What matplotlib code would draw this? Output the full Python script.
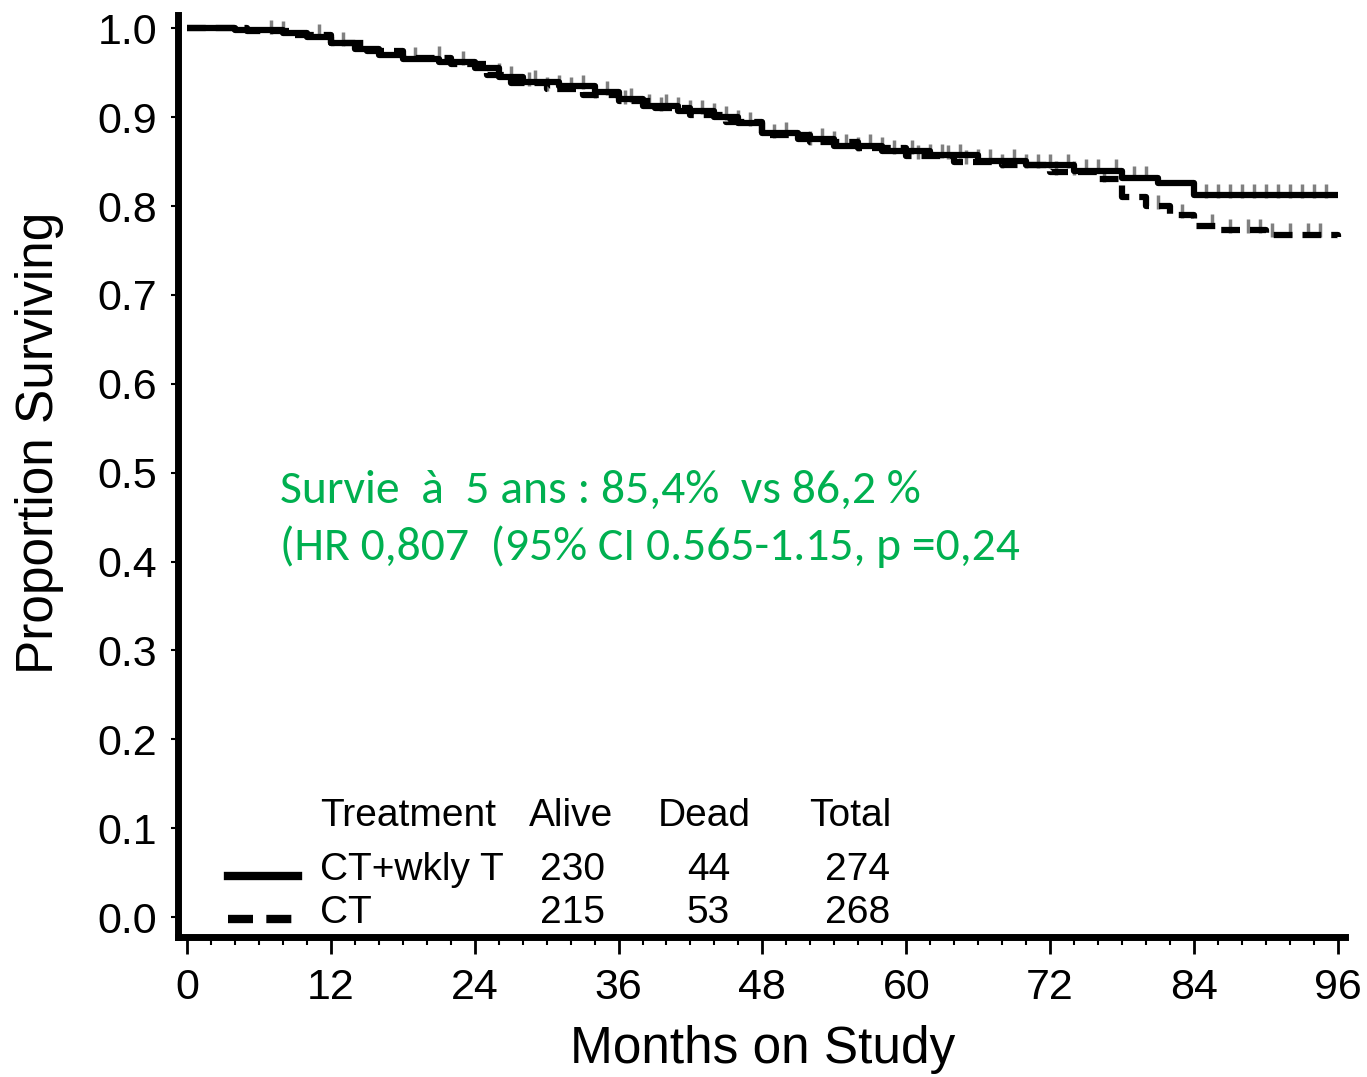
import numpy as np
import matplotlib
matplotlib.use("Agg")
import matplotlib.pyplot as plt
from matplotlib import font_manager

# ---- Kaplan-Meier step data (months, proportion surviving) ----
months_wklyT = [0, 4, 8, 10, 12, 14, 16, 18, 21, 24, 26, 28, 31, 34, 36, 38, 41,
                44, 46, 48, 51, 54, 58, 62, 66, 70, 74, 78, 81, 84, 96]
surv_wklyT = [1.000, 0.998, 0.995, 0.990, 0.983, 0.977, 0.970, 0.966, 0.962, 0.955,
              0.945, 0.940, 0.935, 0.928, 0.920, 0.913, 0.907, 0.900, 0.893, 0.882,
              0.875, 0.868, 0.862, 0.857, 0.851, 0.846, 0.840, 0.832, 0.826, 0.812, 0.812]

months_ct = [0, 5, 9, 12, 15, 18, 22, 25, 27, 30, 33, 36, 39, 42, 45, 48, 52, 56,
             60, 64, 68, 72, 76, 78, 80, 82, 84, 86, 90, 96]
surv_ct = [1.000, 0.997, 0.992, 0.984, 0.975, 0.967, 0.960, 0.948, 0.938, 0.932,
           0.925, 0.918, 0.910, 0.903, 0.895, 0.880, 0.872, 0.865, 0.856, 0.850,
           0.846, 0.838, 0.830, 0.810, 0.800, 0.790, 0.778, 0.773, 0.768, 0.765]

# censored observation times (months)
censor_wklyT = [8, 13, 19, 23, 27, 29, 31, 33, 35, 37, 38.5, 40, 42, 43, 45, 47, 50,
                53, 55, 57, 59, 60.5, 62, 63, 64.5, 66, 67, 69, 71, 72, 73.5, 75, 76,
                77.5, 79, 80, 85, 86, 87, 88, 89, 90, 91, 92, 93, 94, 95]
censor_ct = [7, 11, 21, 26, 28.5, 30, 32, 34, 36.5, 39.5, 41, 44, 46, 49, 52, 54,
             56, 58, 61, 63.5, 65, 68, 70, 72.5, 74, 76.5, 81, 83, 85.5, 87, 88.5,
             89.5, 90.5, 92, 93.5, 94.5]

# summary table
treatments = ["CT+wkly T", "CT"]
alive = [230, 215]
dead = [44, 53]
total = [274, 268]

x_ticks = [0, 12, 24, 36, 48, 60, 72, 84, 96]
y_ticks = [0.0, 0.1, 0.2, 0.3, 0.4, 0.5, 0.6, 0.7, 0.8, 0.9, 1.0]

# ---- fonts ----
available = {f.name for f in font_manager.fontManager.ttflist}
narrow = [f for f in ["Liberation Sans Narrow", "Liberation Sans"]
          if f in available] or ["DejaVu Sans"]
plt.rcParams["font.family"] = narrow + ["DejaVu Sans"]
green_font = [f for f in ["Carlito", "Lato", "Open Sans"] if f in available] or ["DejaVu Sans"]

fig = plt.figure(figsize=(13.67, 10.77), dpi=100)
ax = fig.add_axes([178 / 1367, 1 - 937 / 1077, (1345 - 178) / 1367, (937 - 15) / 1077])
ax.set_xlim(-0.75, 96.6)
ax.set_ylim(-0.0225, 1.015)


def step_value(t, times, surv):
    idx = np.searchsorted(times, t, side="right") - 1
    return np.asarray(surv)[idx]


ax.step(months_wklyT, surv_wklyT, where="post", color="black", lw=4.5,
        solid_capstyle="butt", zorder=3)
ax.step(months_ct, surv_ct, where="post", color="black", lw=4.5,
        linestyle=(0, (3, 1.6)), zorder=3)

ax.plot(censor_wklyT, step_value(censor_wklyT, months_wklyT, surv_wklyT) + 0.005,
        linestyle="none", marker="|", markersize=10, mew=2.5, color="#808080", zorder=2)
ax.plot(censor_ct, step_value(censor_ct, months_ct, surv_ct) + 0.005,
        linestyle="none", marker="|", markersize=10, mew=2.5, color="#808080", zorder=2)

# axes styling
for side in ["top", "right"]:
    ax.spines[side].set_visible(False)
for side in ["left", "bottom"]:
    ax.spines[side].set_linewidth(5)
ax.set_xticks(x_ticks)
ax.set_xticks(np.arange(0, 97, 2), minor=True)
ax.set_yticks(y_ticks)
ax.set_yticklabels([f"{v:.1f}" for v in y_ticks])
ax.tick_params(axis="x", which="major", length=12, width=2, labelsize=31, pad=10)
ax.tick_params(axis="x", which="minor", length=6, width=1.5)
ax.tick_params(axis="y", which="major", length=5, width=1.5, labelsize=31, pad=10,
               colors="black")

fig.text(40 / 1367, 1 - 443 / 1077, "Proportion Surviving", rotation=90,
         ha="center", va="center", fontsize=37)
fig.text(763 / 1367, 1 - 1050 / 1077, "Months on Study", ha="center", va="center",
         fontsize=37)

# annotation
green = "#00b050"
fig.text(280 / 1367, 1 - 490 / 1077, "Survie  à  5 ans : 85,4%  vs 86,2 %",
         color=green, fontsize=34.3, ha="left", va="center", family=green_font)
fig.text(280 / 1367, 1 - 547 / 1077, "(HR 0,807  (95% CI 0.565-1.15, p =0,24",
         color=green, fontsize=34.3, ha="left", va="center", family=green_font)

# summary table with line samples
fs = 28
fig.text(320 / 1367, 1 - 816 / 1077, "Treatment", fontsize=fs, va="center")
fig.text(571 / 1367, 1 - 816 / 1077, "Alive", fontsize=fs, va="center", ha="center")
fig.text(704 / 1367, 1 - 816 / 1077, "Dead", fontsize=fs, va="center", ha="center")
fig.text(850 / 1367, 1 - 816 / 1077, "Total", fontsize=fs, va="center", ha="center")
row_y = [870, 913]
styles = ["-", (0, (3, 1.6))]
for i, name in enumerate(treatments):
    yy = 1 - row_y[i] / 1077
    fig.add_artist(plt.Line2D([228 / 1367, 298 / 1367], [yy - 0.006, yy - 0.006],
                              color="black", lw=6, linestyle=styles[i],
                              transform=fig.transFigure))
    fig.text(320 / 1367, yy, name, fontsize=fs, va="center")
    fig.text(605 / 1367, yy, str(alive[i]), fontsize=fs, va="center", ha="right")
    fig.text(730 / 1367, yy, str(dead[i]), fontsize=fs, va="center", ha="right")
    fig.text(890 / 1367, yy, str(total[i]), fontsize=fs, va="center", ha="right")

fig.savefig("out.png", dpi=100)
